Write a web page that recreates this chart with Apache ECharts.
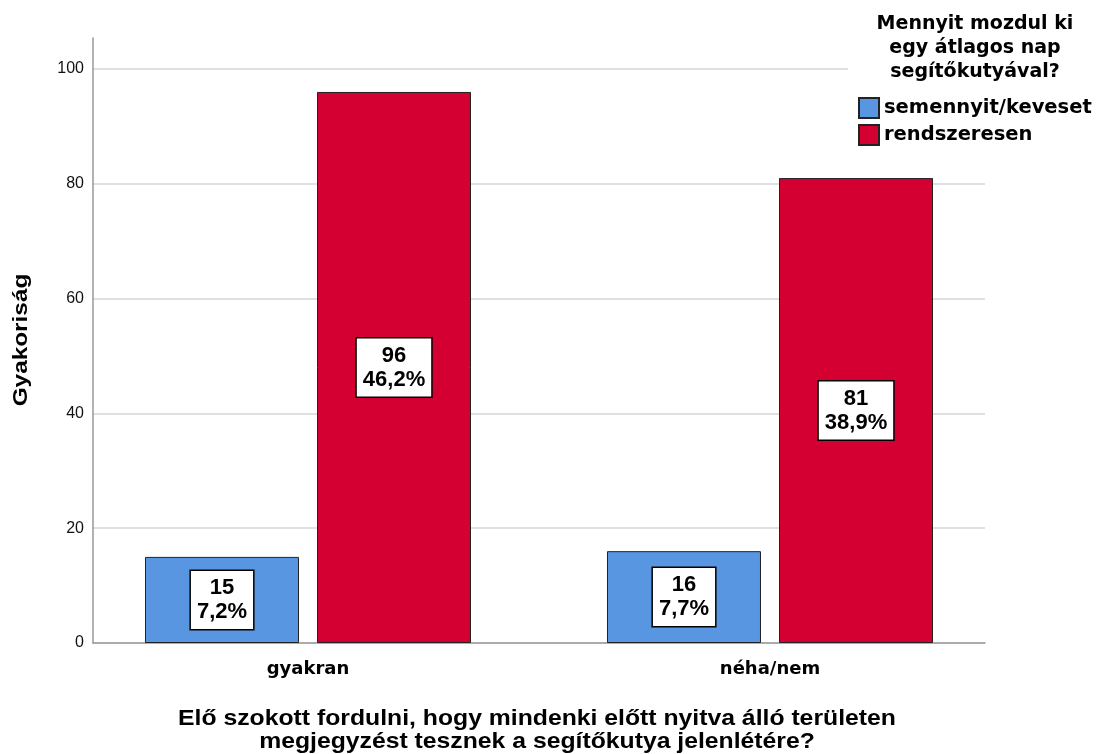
<!DOCTYPE html>
<html>
<head>
<meta charset="utf-8">
<script src="https://cdn.jsdelivr.net/npm/echarts@6/dist/echarts.min.js"></script>
<style>
html,body{margin:0;padding:0;background:#fff;}
#chart{width:1103px;height:754px;}
</style>
</head>
<body>
<div id="chart"></div>
<script>
const categories = ['gyakran', 'néha/nem'];
const seriesNames = ['semennyit/keveset', 'rendszeresen'];
const lowCounts = [15, 16];
const regularCounts = [96, 81];
const yTicks = [0, 20, 40, 60, 80, 100];
const legendTitle = 'Mennyit mozdul ki\negy átlagos nap\nsegítőkutyával?';
const xTitle = 'Elő szokott fordulni, hogy mindenki előtt nyitva álló területen\nmegjegyzést tesznek a segítőkutya jelenlétére?';
const yTitle = 'Gyakoriság';

const total = lowCounts.concat(regularCounts).reduce((a, b) => a + b, 0);
function pctText(v) {
  return (v / total * 100).toFixed(1).replace('.', ',') + '%';
}

const chart = echarts.init(document.getElementById('chart'), null, {renderer: 'canvas'});

const labelStyle = {
  show: true,
  position: 'inside',
  formatter: p => p.value + '\n' + pctText(p.value),
  backgroundColor: '#ffffff',
  borderColor: '#000000',
  borderWidth: 1.5,
  padding: [5, 6, 5, 6],
  fontFamily: 'Liberation Sans',
  fontSize: 22,
  fontWeight: 'bold',
  lineHeight: 24,
  color: '#000',
  align: 'center'
};

const Y_MAX = 105.4;

const option = {
  animation: false,
  backgroundColor: '#ffffff',
  grid: [
    {left: 93, right: 118, top: 38, bottom: 111, containLabel: false},
    {left: 77, right: 102, top: 38, bottom: 111, containLabel: false}
  ],
  legend: {
    orient: 'vertical',
    left: 853,
    top: 92,
    padding: 5,
    itemWidth: 20,
    itemHeight: 20,
    itemGap: 5,
    icon: 'rect',
    data: seriesNames,
    z: 6,
    textStyle: {fontFamily: 'DejaVu Sans', fontWeight: 'bold', fontSize: 19.5, lineHeight: 20, color: '#000'}
  },
  graphic: [
    {
      type: 'rect',
      z: 3,
      shape: {x: 848, y: 0, width: 255, height: 155},
      style: {fill: '#ffffff'},
      silent: true
    },
    {
      type: 'text',
      z: 5,
      x: 975,
      y: 12,
      style: {
        text: legendTitle,
        align: 'center',
        verticalAlign: 'top',
        fontFamily: 'DejaVu Sans',
        fontWeight: 'bold',
        fontSize: 19,
        lineHeight: 24,
        fill: '#000'
      }
    },
    {
      type: 'text',
      z: 5,
      x: 537,
      y: 707,
      scaleX: 1.125,
      style: {
        text: xTitle,
        align: 'center',
        verticalAlign: 'top',
        fontFamily: 'Liberation Sans',
        fontWeight: 'bold',
        fontSize: 22,
        lineHeight: 23,
        fill: '#000'
      }
    },
    {
      type: 'text',
      z: 5,
      x: 21,
      y: 340,
      rotation: Math.PI / 2,
      scaleX: 1.16,
      style: {
        text: yTitle,
        align: 'center',
        verticalAlign: 'middle',
        fontFamily: 'Liberation Sans',
        fontWeight: 'bold',
        fontSize: 21,
        fill: '#000'
      }
    }
  ],
  xAxis: [
    {
      type: 'category',
      gridIndex: 0,
      data: categories,
      axisLine: {show: true, lineStyle: {color: '#999', width: 1.5}},
      axisTick: {show: false},
      axisLabel: {show: false}
    },
    {
      type: 'category',
      gridIndex: 1,
      data: categories,
      axisLine: {show: false},
      axisTick: {show: false},
      axisLabel: {fontFamily: 'DejaVu Sans', fontWeight: 'bold', fontSize: 18, color: '#000', margin: 17}
    }
  ],
  yAxis: [
    {
      type: 'value',
      gridIndex: 0,
      min: 0,
      max: Y_MAX,
      interval: 20,
      axisLine: {show: true, lineStyle: {color: '#999', width: 1.5}},
      axisTick: {show: false},
      axisLabel: {
        fontFamily: 'Liberation Sans', fontSize: 16, color: '#111', margin: 9,
        formatter: v => (yTicks.indexOf(v) >= 0 ? String(v) : '')
      },
      splitLine: {show: true, lineStyle: {color: ['#d6d6d6', '#d6d6d6', '#d6d6d6', '#d6d6d6', '#d6d6d6', '#d6d6d6', 'rgba(0,0,0,0)'], width: 1.5}}
    },
    {
      type: 'value',
      gridIndex: 1,
      min: 0,
      max: Y_MAX,
      interval: 20,
      show: false,
      splitLine: {show: false}
    }
  ],
  series: [
    {
      name: seriesNames[0],
      type: 'bar',
      xAxisIndex: 1,
      yAxisIndex: 1,
      data: lowCounts,
      barWidth: 154,
      barGap: '11.7%',
      itemStyle: {color: '#5896e2', borderColor: '#222', borderWidth: 1},
      label: labelStyle
    },
    {
      name: seriesNames[1],
      type: 'bar',
      xAxisIndex: 1,
      yAxisIndex: 1,
      data: regularCounts,
      barWidth: 154,
      barGap: '11.7%',
      itemStyle: {color: '#d50032', borderColor: '#222', borderWidth: 1},
      label: labelStyle
    }
  ]
};
chart.setOption(option);
</script>
</body>
</html>
